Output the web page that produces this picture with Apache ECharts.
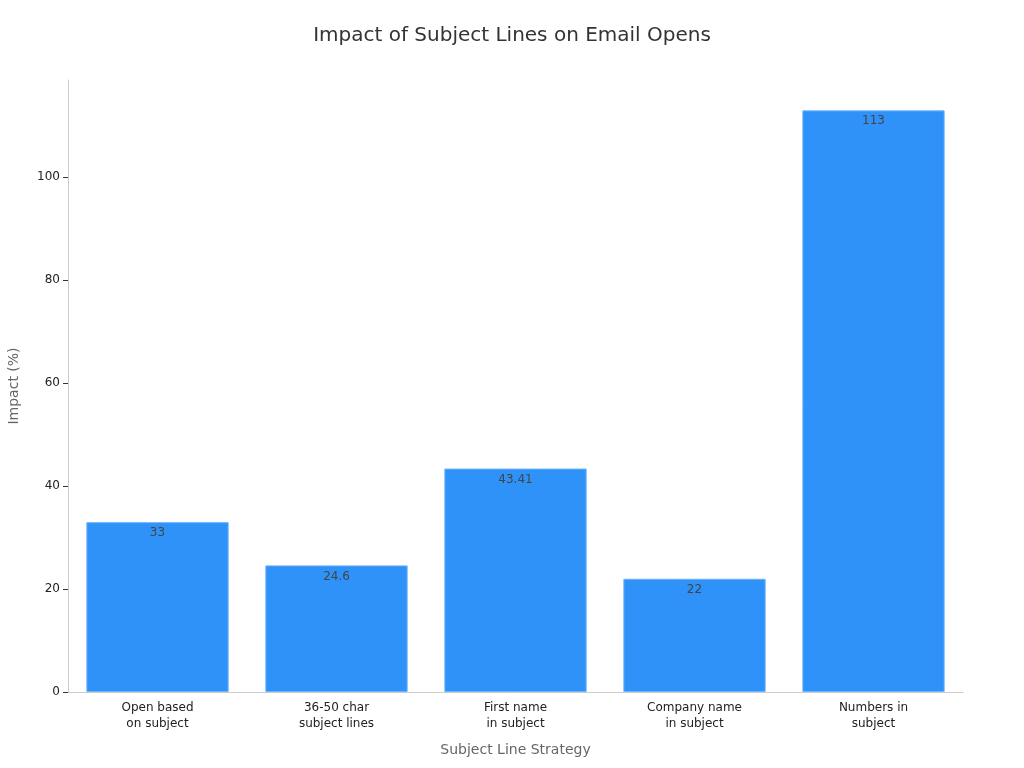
<!DOCTYPE html>
<html><head><meta charset="utf-8">
<script src="https://cdn.jsdelivr.net/npm/echarts@6/dist/echarts.min.js"></script>
<style>html,body{margin:0;padding:0;background:#fff}#c{width:1024px;height:768px}</style>
</head><body><div id="c"></div>
<script>
const categories = ["Open based\non subject", "36-50 char\nsubject lines", "First name\nin subject", "Company name\nin subject", "Numbers in\nsubject"];
const values = [33, 24.6, 43.41, 22, 113];
const yTicks = [0, 20, 40, 60, 80, 100];

const chart = echarts.init(document.getElementById('c'), null, {renderer: 'canvas'});
const font = 'DejaVu Sans';
chart.setOption({
  animation: false,
  textStyle: {fontFamily: font},
  title: {
    text: 'Impact of Subject Lines on Email Opens',
    left: 'center', top: 21,
    textStyle: {fontFamily: font, fontSize: 20, fontWeight: 'normal', color: '#333'}
  },
  grid: {left: 68, right: 61, top: 80, bottom: 76, containLabel: false, outerBoundsMode: 'none'},
  xAxis: {
    type: 'category',
    data: categories,
    name: 'Subject Line Strategy',
    nameLocation: 'middle',
    nameGap: 51,
    nameTextStyle: {fontFamily: font, fontSize: 14, color: '#666'},
    axisLine: {lineStyle: {color: '#ccc'}},
    axisTick: {alignWithLabel: true, length: 5, lineStyle: {color: '#333'}},
    axisLabel: {fontFamily: font, fontSize: 12, color: '#222', lineHeight: 16, margin: 8, interval: 0}
  },
  yAxis: {
    type: 'value',
    min: 0,
    max: 118.9,
    interval: 20,
    name: 'Impact (%)',
    nameLocation: 'middle',
    nameGap: 47,
    nameTextStyle: {fontFamily: font, fontSize: 14, color: '#666'},
    axisLine: {show: true, lineStyle: {color: '#ccc'}},
    axisTick: {show: true, length: 5, lineStyle: {color: '#333'}, customValues: yTicks},
    axisLabel: {fontFamily: font, fontSize: 12, color: '#222', margin: 8, customValues: yTicks},
    splitLine: {show: false}
  },
  series: [{
    type: 'bar',
    data: values,
    barWidth: '79.5%',
    itemStyle: {color: '#2e92f9', borderColor: '#6bb3fa', borderWidth: 1},
    label: {
      show: true, position: 'insideTop', distance: 5,
      fontFamily: font, fontSize: 12, color: '#444'
    }
  }]
});
</script></body></html>
